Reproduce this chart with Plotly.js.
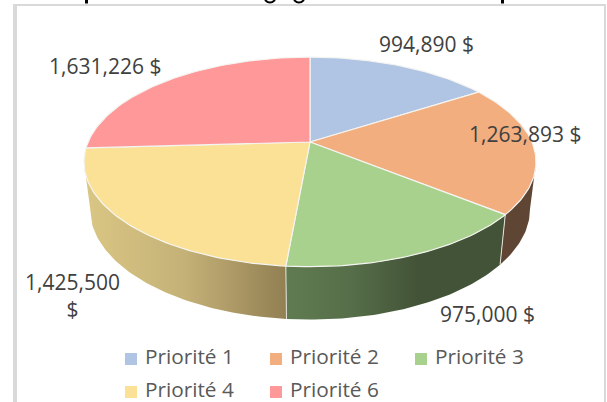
<!DOCTYPE html>
<html>
<head>
<meta charset="utf-8">
<script src="https://cdn.plot.ly/plotly-3.0.1.min.js"></script>
<style>html,body{margin:0;padding:0;background:#fff;overflow:hidden}#chart{width:607px;height:402px}</style>
</head>
<body>
<div id="chart"></div>
<script>
const categories = ["Priorité 1", "Priorité 2", "Priorité 3", "Priorité 4", "Priorité 6"];
const values = [994890, 1263893, 975000, 1425500, 1631226];
const topColors = ["#b0c4e3", "#f2ae7f", "#a9d18e", "#fbe195", "#ff9898"];
const sideScales = {
  1: [[0, "#5f4533"], [1, "#5f4533"]],
  2: [[0, "#607b51"], [0.3, "#566e49"], [0.6, "#435337"], [1, "#435337"]],
  3: [[0, "#dac784"], [0.5, "#c4b177"], [1, "#927f53"]]
};

const total = values.reduce((a, b) => a + b, 0);
const cum = [0];
values.forEach(v => cum.push(cum[cum.length - 1] + v));
const deg = cum.map(c => c / total * 360);

// Tilted-disc projection for the top face and the bottom face
const topFace = {cx: 310, cy: 142, a: 221.9, b: 101, k: 0.19};
const lowFace = {cx: 310, cy: 188, a: 216, b: 106.6, k: 0.19};
function project(face, d) {
  const t = d * Math.PI / 180, s = Math.sin(t), c = Math.cos(t), q = 1 + face.k * c;
  return [face.cx + face.a * s / q, face.cy - face.b * c / q];
}
function arc(face, d0, d1) {
  const pts = [], n = Math.max(2, Math.ceil(Math.abs(d1 - d0)));
  for (let i = 0; i <= n; i++) pts.push(project(face, d0 + (d1 - d0) * i / n));
  return pts;
}
const limitR = 101, limitL = 259;
const traces = [];

// Side walls, only where they face the viewer
[[3, deg[3], limitL], [2, deg[2], deg[3]], [1, limitR, deg[2]]].forEach(([i, d0, d1]) => {
  const pts = arc(topFace, d0, d1).concat(arc(lowFace, d1, d0));
  traces.push({
    type: "scatter", mode: "lines", x: pts.map(p => p[0]), y: pts.map(p => p[1]),
    fill: "toself", line: {width: 0, color: "rgba(0,0,0,0)"},
    fillgradient: {type: "horizontal", colorscale: sideScales[i]},
    hoverinfo: "skip", showlegend: false
  });
});
[deg[2], deg[3]].forEach(d => {
  const a = project(topFace, d), b = project(lowFace, d);
  traces.push({type: "scatter", mode: "lines", x: [a[0], b[0]], y: [a[1], b[1]],
    line: {width: 1, color: "#e4e4dc"}, hoverinfo: "skip", showlegend: false});
});

// Top face slices
values.forEach((v, i) => {
  const pts = [[topFace.cx, topFace.cy]].concat(arc(topFace, deg[i], deg[i + 1]));
  pts.push([topFace.cx, topFace.cy]);
  traces.push({
    type: "scatter", mode: "lines", x: pts.map(p => p[0]), y: pts.map(p => p[1]),
    fill: "toself", fillcolor: topColors[i], line: {width: 1.2, color: "#f4f4f1"},
    name: categories[i], hoverinfo: "name", showlegend: false
  });
});

// Legend: swatch and text share one marker trace
const legendX = [131, 276, 421, 131, 276];
const legendY = [359, 359, 359, 392, 392];
traces.push({
  type: "scatter", mode: "markers+text", x: legendX, y: legendY,
  text: categories.map(c => " " + c), textposition: "middle right",
  textfont: {family: "Open Sans, sans-serif", size: 20.8, color: "#595959"},
  marker: {symbol: "square", size: 12, color: topColors},
  hoverinfo: "skip", showlegend: false, cliponaxis: false
});

const fmt = v => v.toLocaleString("en-US");
const labelFont = {family: "Open Sans, sans-serif", size: 21, color: "#404040"};
const labels = [
  [426, 44, fmt(values[0]) + " $"],
  [525, 134, fmt(values[1]) + " $"],
  [487, 314, fmt(values[2]) + " $"],
  [72, 295, fmt(values[3]) + "<br>$"],
  [105, 66, fmt(values[4]) + " $"]
];
const annotations = labels.map(([x, y, text]) => ({
  x, y, text, xref: "x", yref: "y", showarrow: false, font: labelFont, xanchor: "center", yanchor: "middle"
}));

const border = "#d9d9d9";
const shapes = [
  {type: "line", xref: "x", yref: "y", x0: 15, x1: 15, y0: 4, y1: 402, line: {color: border, width: 4}},
  {type: "line", xref: "x", yref: "y", x0: 13, x1: 606, y0: 5, y1: 5, line: {color: border, width: 2}},
  {type: "line", xref: "x", yref: "y", x0: 605, x1: 605, y0: 4, y1: 402, line: {color: border, width: 2}}
];
// Slivers left by the heading cropped off above the chart: no legible text survives
[86.5, 502.5].forEach(x => shapes.push({type: "line", xref: "x", yref: "y", x0: x, x1: x, y0: 0, y1: 3.5,
  line: {color: "#000", width: 3}}));
[270, 299].forEach(x => shapes.push({type: "path", xref: "x", yref: "y",
  path: `M ${x - 5} 0 Q ${x} 5 ${x + 5} 0`, line: {color: "#000", width: 2}}));

const hidden = {visible: false, fixedrange: true};
Plotly.newPlot("chart", traces, {
  width: 607, height: 402,
  margin: {l: 0, r: 0, t: 0, b: 0},
  paper_bgcolor: "#fff", plot_bgcolor: "#fff",
  showlegend: false,
  xaxis: Object.assign({range: [0, 607]}, hidden),
  yaxis: Object.assign({range: [402, 0]}, hidden),
  annotations, shapes
}, {displayModeBar: false, staticPlot: true});
</script>
</body>
</html>
